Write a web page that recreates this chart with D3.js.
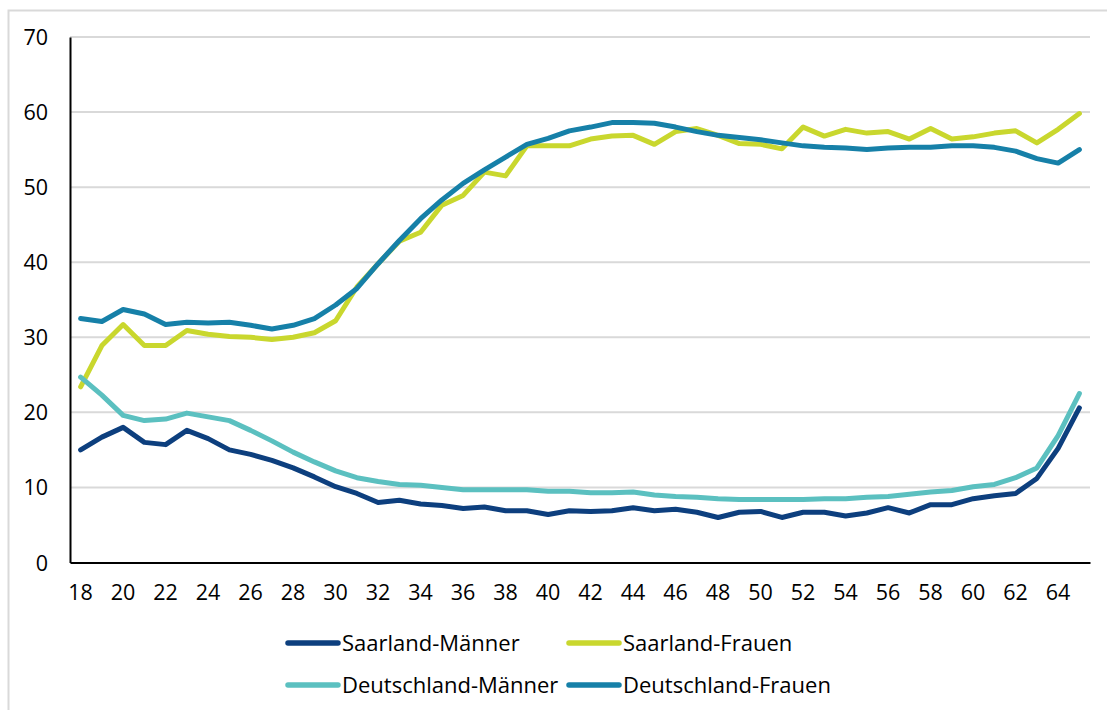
<!DOCTYPE html>
<html><head><meta charset="utf-8">
<script src="https://cdn.jsdelivr.net/npm/d3@7"></script>
<style>body{margin:0;background:#fff}svg{display:block}text{font-family:"Open Sans","Noto Sans",sans-serif;fill:#000}</style>
</head><body><svg id="c" width="1107" height="710"></svg>
<script>
const ages = d3.range(18, 66);
const yTicks = [0,10,20,30,40,50,60,70];
const xTickLabels = d3.range(18, 65, 2);
const seriesNames = ["Saarland-Männer","Saarland-Frauen","Deutschland-Männer","Deutschland-Frauen"];
const seriesColors = ["#0d3f7e","#c9d72e","#5bc0c0","#1680a8"];
const saarlandMaenner = [15.0,16.7,18.0,16.0,15.7,17.6,16.5,15.0,14.4,13.6,12.6,11.4,10.1,9.2,8.0,8.3,7.8,7.6,7.2,7.4,6.9,6.9,6.4,6.9,6.8,6.9,7.3,6.9,7.1,6.7,6.0,6.7,6.8,6.0,6.7,6.7,6.2,6.6,7.3,6.6,7.7,7.7,8.5,8.9,9.2,11.2,15.2,20.6];
const saarlandFrauen = [23.4,28.9,31.7,28.9,28.9,30.9,30.4,30.1,30.0,29.7,30.0,30.6,32.2,36.7,39.8,42.8,44.0,47.6,48.9,52.0,51.5,55.5,55.5,55.5,56.4,56.8,56.9,55.7,57.4,57.8,56.9,55.8,55.7,55.1,58.0,56.8,57.7,57.2,57.4,56.4,57.8,56.4,56.7,57.2,57.5,55.9,57.7,59.8];
const deutschlandMaenner = [24.7,22.3,19.6,18.9,19.1,19.9,19.4,18.9,17.6,16.2,14.7,13.4,12.2,11.3,10.8,10.4,10.3,10.0,9.7,9.7,9.7,9.7,9.5,9.5,9.3,9.3,9.4,9.0,8.8,8.7,8.5,8.4,8.4,8.4,8.4,8.5,8.5,8.7,8.8,9.1,9.4,9.6,10.1,10.4,11.3,12.6,16.9,22.5];
const deutschlandFrauen = [32.5,32.1,33.7,33.1,31.7,32.0,31.9,32.0,31.6,31.1,31.6,32.5,34.3,36.5,39.8,42.9,45.8,48.3,50.5,52.3,54.0,55.7,56.5,57.5,58.0,58.6,58.6,58.5,58.0,57.4,56.9,56.6,56.3,55.9,55.5,55.3,55.2,55.0,55.2,55.3,55.3,55.5,55.5,55.3,54.8,53.8,53.2,55.0];
const seriesValues = [saarlandMaenner, saarlandFrauen, deutschlandMaenner, deutschlandFrauen];

const svg = d3.select("#c");
svg.append("rect").attr("x",8.5).attr("y",10.5).attr("width",1120).attr("height",720)
  .attr("fill","none").attr("stroke","#d9d9d9").attr("stroke-width",2);

const plotLeft = 70, plotRight = 1090, plotTop = 37, plotBottom = 562.5;
const x = d3.scaleBand().domain(ages).range([plotLeft, plotRight]);
const y = d3.scaleLinear().domain([0,70]).range([plotBottom, plotTop]);
const cx = a => x(a) + x.bandwidth()/2;

svg.append("g").selectAll("line").data(yTicks.filter(t=>t>0)).join("line")
  .attr("x1",plotLeft).attr("x2",plotRight).attr("y1",d=>y(d)).attr("y2",d=>y(d))
  .attr("stroke","#d9d9d9").attr("stroke-width",2);

const yAxis = svg.append("g").attr("transform",`translate(${plotLeft},0)`)
  .call(d3.axisLeft(y).tickValues(yTicks).tickSize(0).tickPadding(22));
yAxis.select(".domain").attr("stroke","#000").attr("stroke-width",2);
yAxis.selectAll("text").style("font-size","21.5px").attr("dy","0.35em");

const xAxis = svg.append("g").attr("transform",`translate(0,${plotBottom})`)
  .call(d3.axisBottom(x).tickValues(xTickLabels).tickSize(0).tickPadding(22));
xAxis.select(".domain").attr("stroke","#000").attr("stroke-width",2);
xAxis.selectAll("text").style("font-size","21.5px");

const line = d3.line().x((d,i)=>cx(ages[i])).y(d=>y(d));
seriesValues.forEach((vals,i)=>{
  svg.append("path").datum(vals).attr("d",line).attr("fill","none")
    .attr("stroke",seriesColors[i]).attr("stroke-width",5)
    .attr("stroke-linejoin","round").attr("stroke-linecap","round");
});

const legPos = [[288,643],[569,643],[288,685],[569,685]];
seriesNames.forEach((n,i)=>{
  const [lx,ly] = legPos[i];
  const g = svg.append("g").attr("transform",`translate(${lx},${ly})`);
  g.append("line").attr("x1",0).attr("x2",50).attr("stroke",seriesColors[i])
    .attr("stroke-width",5.5).attr("stroke-linecap","round");
  g.append("text").attr("x",54).attr("dy","0.35em").style("font-size","22px").text(n);
});
</script></body></html>
